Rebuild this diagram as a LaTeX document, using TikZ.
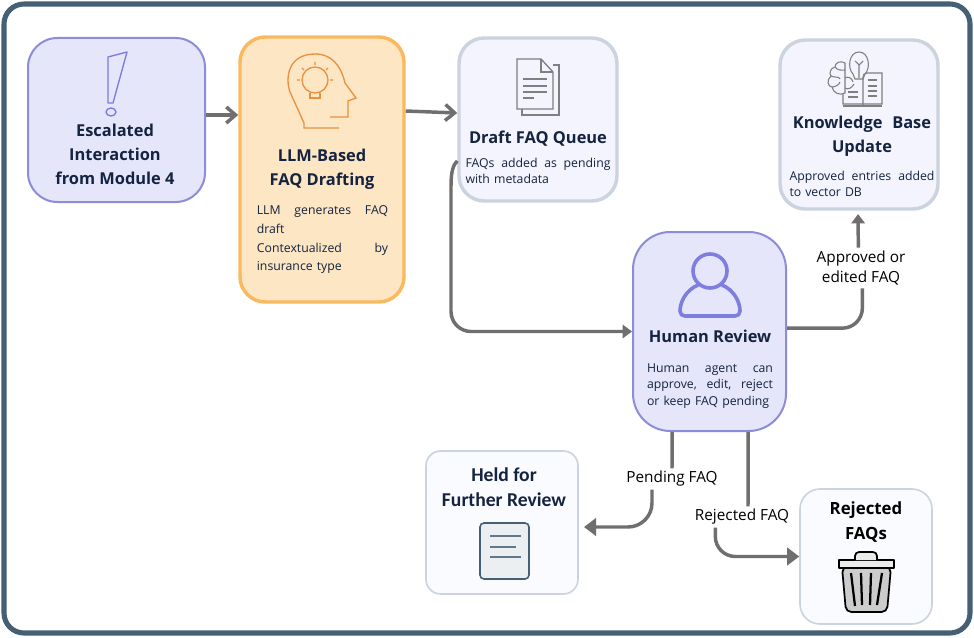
\documentclass[tikz,border=0pt]{standalone}
\usepackage{fontspec}
\setmainfont{Open Sans}
\newfontfamily\heldfont{Carlito}
\usetikzlibrary{arrows.meta}
\definecolor{navytext}{HTML}{14233F}
\definecolor{framecol}{HTML}{455F75}
\definecolor{lilacfill}{HTML}{E5E6FA}
\definecolor{lilacline}{HTML}{8C8CD8}
\definecolor{peachfill}{HTML}{FDE6C4}
\definecolor{peachline}{HTML}{FBB95F}
\definecolor{palefill}{HTML}{F3F4FD}
\definecolor{greyline}{HTML}{CBD3DE}
\definecolor{flowcol}{HTML}{6F6F6F}
\definecolor{iconorange}{HTML}{E8913F}
\definecolor{iconlilac}{HTML}{7B7BE0}
\definecolor{icongrey}{HTML}{7F7F7F}
\tikzset{
    boxsize/.style 2 args={minimum width=#1*0.75pt, minimum height=#2*0.75pt},
    lilacbox/.style={draw=lilacline, fill=lilacfill, line width=1.5pt, rounded corners=22pt},
    peachbox/.style={draw=peachline, fill=peachfill, line width=2.6pt, rounded corners=19pt},
    palebox/.style={draw=greyline, fill=palefill, line width=2.6pt, rounded corners=19pt},
    heldbox/.style={draw=greyline, fill=white!60!palefill, line width=1.2pt, rounded corners=11pt},
    titletext/.style={text=navytext, font=\bfseries\fontsize{12.3}{18}\selectfont, align=center, inner sep=0pt},
    bodytext/.style={text=navytext, font=\fontsize{9.2}{12.4}\selectfont, align=left, inner sep=0pt},
    flowlabel/.style={text=black, font=\fontsize{11.5}{15.5}\selectfont, align=center, inner sep=2pt},
    flowline/.style={draw=flowcol, line width=2.6pt},
    barbflow/.style={flowline, -{Straight Barb[length=7pt,width=12pt,line width=2.6pt]}},
    triflow/.style={flowline, -{Triangle[length=7pt,width=10pt]}},
    bigflow/.style={flowline, -{Triangle[length=9pt,width=13pt]}},
    plainflow/.style={flowline},
}
\begin{document}
\begin{tikzpicture}[x=0.75pt, y=-0.75pt]
    \useasboundingbox (0,0) rectangle (974,638);
    \fill[white] (0,0) rectangle (974,638);
    \draw[framecol, line width=3.8pt, rounded corners=15pt] (4,4) rectangle (970,633);

    % boxes
    \node[lilacbox, boxsize={177}{164}] (escbox) at (116.5,120) {};
    \node[peachbox, boxsize={164}{265}] (llmbox) at (322,169.5) {};
    \node[palebox, boxsize={158}{163}] (draftq) at (538,119.5) {};
    \node[palebox, boxsize={158}{169}] (kbase) at (859,124.5) {};
    \node[lilacbox, boxsize={153}{199}, rounded corners=28pt] (humanrev) at (709.5,331.5) {};
    \node[heldbox, boxsize={152}{143}] (heldq) at (502,522.5) {};
    \node[heldbox, boxsize={132}{135}, rounded corners=15pt] (rejfaq) at (866,556.5) {};

    % texts of the boxes
    \node[titletext] (esctitle) at (115,154) {Escalated\\Interaction\\from Module 4};
    \node[titletext] (llmtitle) at (322,169) {LLM-Based\\FAQ Drafting};
    \node[bodytext, text width=131.25*0.75pt, font=\fontsize{9.2}{14}\selectfont] (llmbody) at (322.5,240) {LLM\hfill generates\hfill FAQ\\draft\\Contextualized\hfill by\\insurance type};
    \node[titletext] (drafttitle) at (538,139) {Draft FAQ Queue};
    \node[bodytext, text width=145*0.75pt] (draftbody) at (538,171) {FAQs\hfill added\hfill as\hfill pending\\with metadata};
    \node[titletext] (kbtitle) at (862,136) {Knowledge\hspace{0.6em}Base\\Update};
    \node[bodytext, text width=145*0.75pt] (kbbody) at (862,184) {Approved\hfill entries\hfill added\\to vector DB};
    \node[titletext] (humantitle) at (710,336) {Human Review};
    \node[bodytext, text width=126*0.75pt] (humanbody) at (710,386) {Human\hfill agent\hfill can\\approve,\hfill edit,\hfill reject\\or keep FAQ pending};
    \node[titletext, font=\heldfont\bfseries\fontsize{14.7}{18.5}\selectfont, text=navytext] (heldtitle) at (504,487) {Held for\\Further Review};
    \node[titletext, font=\bfseries\fontsize{12.6}{19}\selectfont, text=black] (rejtitle) at (866,522) {Rejected\\FAQs};

    % connector labels
    \node[flowlabel] (lblapproved) at (861,268) {Approved or\\edited FAQ};
    \node[flowlabel] (lblpending) at (672,479) {Pending FAQ};
    \node[flowlabel] (lblrejected) at (742,517) {Rejected FAQ};
    \coordinate (heldin) at (584,527);

    % connectors
    \draw[barbflow] (escbox.east |- 0,115) -- (llmbox.west |- 0,115);
    \draw[barbflow] (llmbox.east |- 0,111) -- (draftq.west |- 0,113);
    \draw[triflow] ([yshift=-31pt]draftq.west) .. controls (453,165) and (451,172) .. (451,186) [rounded corners=15pt] |- (humanrev.west);
    \draw[plainflow, rounded corners=15pt] ([yshift=2.5pt]humanrev.east) -| ([xshift=1pt]lblapproved.south);
    \draw[triflow, shorten >=2pt] ([xshift=-2pt]lblapproved.north) -- ([xshift=-0.75pt,yshift=-0.5pt]kbase.south);
    \draw[plainflow] ([xshift=-28pt]humanrev.south) -- (lblpending.north);
    \draw[bigflow, rounded corners=18pt] ([xshift=-15pt]lblpending.south) |- (heldin);
    \draw[plainflow] ([xshift=29pt]humanrev.south) -- ([xshift=4.5pt]lblrejected.north);
    \draw[bigflow, rounded corners=15pt] ([xshift=-20pt]lblrejected.south) |- (rejfaq.west);

    % exclamation mark
    \draw[iconlilac, line width=1pt, line join=round] (108,57) -- (127,52) -- (113,103) -- (108,103) -- cycle;
    \draw[iconlilac, line width=1pt] (111,112) ellipse (5 and 4);

    % head with bulb
    \begin{scope}[iconorange, line width=1pt]
        \draw (339,128) -- (304,128) -- (304,123) -- (290,92) .. controls (285,78) and (288,54) .. (315,54) .. controls (332,54) and (341,66) .. (345,83) -- (356,98) -- (348,101) -- (348,117) -- (330,117);
        \draw (315,80) circle (13);
        \draw (310,93) -- (310,98) -- (320,98) -- (320,93);
        \draw (297,80) -- (300,80) (330,80) -- (333,80) (315,62) -- (315,65) (302,68) -- (304,70) (328,68) -- (326,70);
    \end{scope}

    % document icon
    \begin{scope}[icongrey, line width=1pt]
        \draw (553,65) -- (559,65) -- (559,115) -- (522,115) -- (522,109);
        \draw (517,59) -- (541,59) -- (553,72) -- (553,109) -- (517,109) -- cycle;
        \draw (541,59) -- (541,72) -- (553,72);
        \draw (523,79) -- (547,79) (523,86) -- (547,86) (523,92) -- (547,92) (523,98) -- (534,98);
    \end{scope}

    % brain, bulb and book
    \begin{scope}[icongrey, line width=0.8pt]
        \draw (845,63) .. controls (840,60) and (835,63) .. (835,67) .. controls (830,68) and (829,74) .. (831,76) .. controls (826,80) and (828,87) .. (832,87) .. controls (833,93) and (840,96) .. (845,93) -- (845,63);
        \draw (835,67) .. controls (838,71) and (842,70) .. (845,70) (831,76) .. controls (835,78) and (839,76) .. (840,79) (832,87) .. controls (835,87) and (839,85) .. (840,82) (845,78) .. controls (848,76) and (852,78) .. (853,82) (845,88) .. controls (848,90) and (852,88) .. (854,84);
        \draw (853,74) .. controls (847,68) and (849,52) .. (859,52) .. controls (869,52) and (871,68) .. (865,74) -- (863,79) -- (855,79) -- cycle;
        \draw (859,64) -- (859,78) (855,61) -- (859,65) -- (863,61);
        \draw (843,94) -- (843,104) -- (882,104) -- (882,73) -- (867,73) .. controls (864,73) and (863,75) .. (863,77) -- (863,105);
        \draw (843,106) -- (882,106);
        \draw (868,80) -- (877,80) (868,86) -- (877,86) (868,91) -- (877,91) (868,96) -- (877,96) (848,92) -- (858,92) (848,97) -- (858,97);
    \end{scope}

    % person
    \begin{scope}[draw=iconlilac!80!lilacline, line width=2.7pt, line join=round]
        \draw (710,271) circle (17);
        \draw (698,285) .. controls (686,290) and (680,302) .. (680,311) .. controls (680,314) and (682,316) .. (685,316) -- (735,316) .. controls (738,316) and (740,314) .. (740,311) .. controls (740,302) and (734,290) .. (722,285);
    \end{scope}

    % note icon
    \draw[framecol, fill=framecol!10!white, line width=1.2pt, rounded corners=3pt] (480,523) rectangle (529,579);
    \draw[framecol!85!white, line width=1.9pt] (490,536) -- (521,536) (490,547) -- (516,547) (490,557) -- (521,557);

    % trash can
    \begin{scope}[black, line width=1.3pt, line join=round]
        \draw[fill=black!20!white, rounded corners=4pt] (842,567) -- (846,612) -- (887,612) -- (891,567) -- cycle;
        \draw[fill=black!8!white] (839,560) rectangle (894,568);
        \draw[fill=black!8!white, rounded corners=3pt] (855,560) -- (855,552) -- (877,552) -- (877,560);
        \draw[line width=1.7pt] (851,573) -- (855,606) (861,573) -- (862,605) (871,573) -- (870,605) (882,573) -- (877,605);
    \end{scope}
\end{tikzpicture}
\end{document}
